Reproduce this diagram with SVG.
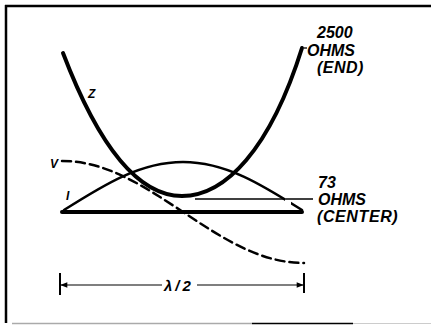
<svg xmlns="http://www.w3.org/2000/svg" width="431" height="325" viewBox="0 0 431 325">
<style>
.lbl{font-family:"Liberation Sans",Arial,sans-serif;font-weight:bold;font-style:italic;fill:#000}
.curve{fill:none;stroke:#000;stroke-linecap:round}
</style>
<defs>
<clipPath id="igap"><rect x="0" y="0" width="285" height="325"/><rect x="291" y="0" width="140" height="325"/></clipPath>
<marker id="arr" viewBox="0 0 10 10" refX="9" refY="5" markerWidth="9" markerHeight="7" markerUnits="userSpaceOnUse" orient="auto-start-reverse"><path d="M0,1 L10,5 L0,9 z" fill="#000"/></marker>
</defs>
<rect width="431" height="325" fill="#fff"/>
<g id="frame">
<line x1="5" y1="6" x2="431" y2="6" stroke="#000" stroke-width="2.5"/>
<line x1="6" y1="5" x2="6" y2="323" stroke="#000" stroke-width="2.5"/>
<line x1="12" y1="323.5" x2="252" y2="323.5" stroke="#aaa" stroke-width="1.5"/>
<line x1="252" y1="323.5" x2="353" y2="323.5" stroke="#000" stroke-width="1.5"/>
<line x1="353" y1="323.5" x2="431" y2="323.5" stroke="#ccc" stroke-width="1"/>
</g>
<g id="connectors">
<path id="antenna" class="curve" d="M62,212 H302" stroke-width="4"/>
<path id="Z" class="curve" d="M63,53 C100,150 140,196 182,196 C225,196 270,150 302,48" stroke-width="4"/>
<path id="I" class="curve" clip-path="url(#igap)" d="M64,210 C103.8,184.8 140.2,162 183,162 C225.8,162 262.2,184.8 302,210" stroke-width="2.5"/>
<path id="V" class="curve" d="M62,161 C105.6,161 142.5,185.2 183,212 S260.4,263 304,263" stroke-width="2.5" stroke-dasharray="9,5" stroke-linecap="butt"/>
<line x1="195" y1="199" x2="313" y2="199" stroke="#000" stroke-width="1.3"/>
<line x1="304" y1="48" x2="307" y2="48" stroke="#000" stroke-width="1.3"/>
<line x1="60" y1="273" x2="60" y2="295" stroke="#000" stroke-width="2"/>
<line x1="304" y1="273" x2="304" y2="293" stroke="#000" stroke-width="2"/>
<line x1="61" y1="285" x2="162" y2="285" stroke="#000" stroke-width="1.2" marker-start="url(#arr)"/>
<line x1="197" y1="285" x2="303" y2="285" stroke="#000" stroke-width="1.2" marker-end="url(#arr)"/>
</g>
<g id="label-z"><text class="lbl" x="88" y="98" font-size="12">Z</text></g>
<g id="label-v"><text class="lbl" x="50" y="168" font-size="12">V</text></g>
<g id="label-i"><text class="lbl" x="66" y="200" font-size="12">I</text></g>
<g id="label-end">
<text class="lbl" x="317" y="38" font-size="16">2500</text>
<text class="lbl" x="307" y="56" font-size="16">OHMS</text>
<text class="lbl" x="317" y="73" font-size="16" letter-spacing="0.5">(END)</text>
</g>
<g id="label-center">
<text class="lbl" x="318" y="188" font-size="16">73</text>
<text class="lbl" x="318" y="205" font-size="16">OHMS</text>
<text class="lbl" x="317" y="222" font-size="16" letter-spacing="0.6">(CENTER)</text>
</g>
<g id="label-lambda"><text class="lbl" x="164" y="291" font-size="15" letter-spacing="3">λ/2</text></g>
</svg>
